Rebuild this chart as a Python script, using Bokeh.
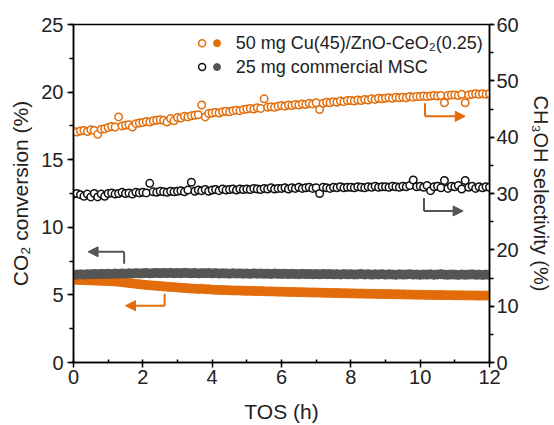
import numpy as np
from bokeh.plotting import figure
from bokeh.models import (Range1d, LinearAxis, SingleIntervalTicker, Label, Arrow, NormalHead)
from bokeh.embed import file_html
from bokeh.resources import INLINE

# ---------------- data ----------------
tos_h = np.round(np.arange(0, 121) * 0.1, 1)

# CH3OH selectivity (%), 50 mg Cu(45)/ZnO-CeO2(0.25)  (right axis, open orange)
sel_cu = [41.0, 40.9, 41.1, 41.2, 41.0, 41.3, 41.2, 40.5, 41.4, 41.5,
          41.7, 41.9, 41.8, 43.6, 42.0, 42.1, 42.2, 41.8, 42.4, 42.5,
          42.6, 42.8, 42.7, 42.9, 43.0, 43.1, 43.0, 42.7, 43.3, 42.9,
          43.5, 43.4, 43.7, 43.6, 43.8, 43.9, 44.0, 45.7, 43.6, 44.2,
          44.3, 44.4, 44.3, 44.5, 44.6, 44.5, 44.7, 44.8, 44.7, 44.9,
          45.0, 45.1, 45.0, 45.2, 45.1, 46.8, 45.3, 45.4, 45.3, 45.5,
          45.6, 45.5, 45.7, 45.6, 45.8, 45.7, 45.9, 45.8, 46.0, 45.9,
          46.1, 44.9, 46.0, 46.2, 46.1, 46.3, 46.2, 46.4, 46.3, 46.5,
          46.5, 46.4, 46.6, 46.5, 46.7, 46.6, 46.8, 46.7, 46.9, 46.8,
          46.9, 47.0, 46.9, 47.1, 47.0, 47.1, 47.0, 47.2, 47.1, 47.2,
          47.2, 47.3, 47.2, 47.3, 47.4, 47.3, 47.4, 46.1, 47.4, 47.5,
          47.5, 47.4, 47.6, 46.1, 47.5, 47.6, 47.7, 47.6, 47.7, 47.6,
          47.7]

# CH3OH selectivity (%), 25 mg commercial MSC (right axis, open black)
sel_msc = [29.9, 30.0, 29.8, 29.5, 29.9, 29.4, 30.0, 29.4, 29.9, 29.5,
           30.0, 30.1, 29.9, 30.0, 30.2, 30.0, 30.1, 29.9, 30.2, 30.1,
           30.2, 30.1, 31.8, 30.3, 30.2, 30.4, 30.3, 30.2, 30.4, 30.3,
           30.4, 30.5, 30.3, 30.6, 32.0, 30.4, 30.6, 30.5, 30.7, 30.4,
           30.6, 30.7, 30.5, 30.8, 30.6, 30.7, 30.8, 30.6, 30.8, 30.7,
           30.8, 30.7, 30.9, 30.8, 30.7, 30.9, 30.8, 31.0, 30.8, 30.9,
           30.9, 31.0, 30.8, 31.0, 30.9, 31.1, 30.9, 31.0, 31.1, 30.9,
           31.0, 30.0, 31.1, 31.0, 30.9, 31.1, 31.0, 31.2, 31.0, 31.1,
           31.1, 31.0, 31.2, 31.1, 31.0, 31.2, 31.1, 31.3, 31.1, 31.2,
           31.2, 31.1, 31.3, 31.2, 31.1, 31.3, 31.2, 31.4, 32.4, 31.2,
           31.3, 31.1, 31.4, 30.5, 31.2, 31.3, 31.0, 32.3, 30.9, 31.3,
           31.2, 31.4, 30.8, 32.3, 31.1, 31.3, 30.9, 31.2, 31.0, 31.2,
           31.1]

# CO2 conversion (%), Cu(45)/ZnO-CeO2(0.25) (left axis, filled orange)
conv_cu = [6.12, 6.11, 6.10, 6.09, 6.08, 6.07, 6.06, 6.05, 6.04, 6.03,
           6.02, 6.01, 5.99, 5.97, 5.94, 5.91, 5.88, 5.85, 5.82, 5.79,
           5.76, 5.73, 5.71, 5.69, 5.67, 5.65, 5.63, 5.61, 5.59, 5.57,
           5.55, 5.53, 5.51, 5.49, 5.47, 5.46, 5.44, 5.46, 5.42, 5.41,
           5.39, 5.38, 5.37, 5.36, 5.35, 5.34, 5.33, 5.33, 5.32, 5.31,
           5.30, 5.30, 5.29, 5.28, 5.28, 5.27, 5.26, 5.26, 5.25, 5.24,
           5.24, 5.23, 5.22, 5.22, 5.21, 5.20, 5.20, 5.19, 5.18, 5.18,
           5.17, 5.17, 5.16, 5.15, 5.15, 5.14, 5.14, 5.13, 5.12, 5.12,
           5.11, 5.11, 5.10, 5.10, 5.09, 5.09, 5.08, 5.08, 5.07, 5.07,
           5.06, 5.06, 5.05, 5.05, 5.04, 5.04, 5.03, 5.03, 5.02, 5.02,
           5.01, 5.01, 5.00, 5.00, 4.99, 4.99, 4.99, 4.98, 4.98, 4.98,
           4.97, 4.97, 4.97, 4.96, 4.96, 4.96, 4.95, 4.95, 4.95, 4.95,
           4.94]

# CO2 conversion (%), commercial MSC (left axis, filled grey)
conv_msc = [6.48, 6.50, 6.52, 6.50, 6.53, 6.52, 6.55, 6.53, 6.56, 6.54,
            6.57, 6.55, 6.58, 6.56, 6.59, 6.57, 6.60, 6.58, 6.61, 6.59,
            6.60, 6.62, 6.59, 6.61, 6.63, 6.60, 6.62, 6.61, 6.63, 6.60,
            6.62, 6.60, 6.63, 6.61, 6.60, 6.62, 6.59, 6.61, 6.60, 6.62,
            6.59, 6.61, 6.58, 6.60, 6.59, 6.57, 6.60, 6.58, 6.59, 6.57,
            6.58, 6.56, 6.59, 6.57, 6.58, 6.56, 6.57, 6.55, 6.58, 6.56,
            6.55, 6.57, 6.54, 6.56, 6.55, 6.53, 6.56, 6.54, 6.55, 6.53,
            6.54, 6.52, 6.55, 6.53, 6.54, 6.52, 6.53, 6.51, 6.54, 6.52,
            6.53, 6.51, 6.52, 6.54, 6.51, 6.53, 6.50, 6.52, 6.51, 6.53,
            6.50, 6.52, 6.51, 6.49, 6.52, 6.50, 6.51, 6.53, 6.50, 6.51,
            6.49, 6.51, 6.50, 6.52, 6.49, 6.51, 6.53, 6.50, 6.49, 6.51,
            6.50, 6.48, 6.51, 6.49, 6.50, 6.52, 6.49, 6.50, 6.48, 6.50,
            6.49]

series_names = ["50 mg Cu(45)/ZnO-CeO\u2082(0.25)", "25 mg commercial MSC"]
x_title = "TOS (h)"
left_title = "CO\u2082 conversion (%)"
right_title = "CH\u2083OH selectivity (%)"

ORANGE = "#E36C0A"
GREY = "#555555"
BLACK = "#111111"
TXT = "#222222"
FONT = "Liberation Sans"

# ---------------- figure ----------------
p = figure(width=554, height=425, output_backend="svg", toolbar_location=None,
           x_range=Range1d(0, 12), y_range=Range1d(0, 25),
           min_border_left=73, min_border_right=61, min_border_top=24, min_border_bottom=62)
p.extra_y_ranges = {"right": Range1d(0, 60)}
p.xgrid.visible = False
p.ygrid.visible = False
p.outline_line_color = "black"
p.outline_line_width = 1.5
p.background_fill_color = "white"
p.border_fill_color = "white"

def style_axis(ax, label, label_size="21px"):
    ax.axis_label = label
    ax.axis_label_text_font = FONT
    ax.axis_label_text_font_style = "normal"
    ax.axis_label_text_font_size = label_size
    ax.axis_label_text_color = TXT
    ax.major_label_text_font = FONT
    ax.major_label_text_font_size = "20px"
    ax.major_label_text_color = TXT
    ax.axis_line_color = "black"
    ax.axis_line_width = 1.5
    ax.major_tick_line_color = "black"
    ax.minor_tick_line_color = "black"
    ax.major_tick_line_width = 1.5
    ax.minor_tick_line_width = 1.5

xa = p.xaxis[0]
xa.ticker = SingleIntervalTicker(interval=2, num_minor_ticks=2)
style_axis(xa, x_title)
xa.major_tick_out = 5
xa.major_tick_in = 0
xa.minor_tick_out = 0
xa.minor_tick_in = 3
xa.major_label_standoff = 2
xa.axis_label_standoff = 13

ya = p.yaxis[0]
ya.ticker = SingleIntervalTicker(interval=5, num_minor_ticks=2)
style_axis(ya, left_title)
ya.major_tick_out = 6
ya.major_tick_in = 0
ya.minor_tick_out = 4
ya.minor_tick_in = 0
ya.major_label_standoff = 4
ya.axis_label_standoff = 6

yr = LinearAxis(y_range_name="right",
                ticker=SingleIntervalTicker(interval=10, num_minor_ticks=2))
style_axis(yr, right_title, "20px")
yr.major_tick_out = 5
yr.major_tick_in = 0
yr.minor_tick_out = 4
yr.minor_tick_in = 0
yr.major_label_standoff = 2
yr.axis_label_standoff = 8
p.add_layout(yr, "right")

# ---------------- data glyphs ----------------
p.scatter(tos_h, conv_cu, size=9, marker="circle", fill_color=ORANGE, line_color=ORANGE)
p.scatter(tos_h, conv_msc, size=9, marker="circle", fill_color=GREY, line_color=GREY)
p.scatter(tos_h, sel_msc, y_range_name="right", size=7.5, marker="circle",
          fill_color="white", line_color=BLACK, line_width=1.5)
p.scatter(tos_h, sel_cu, y_range_name="right", size=7.5, marker="circle",
          fill_color="white", line_color=ORANGE, line_width=1.5)

# ---------------- arrows ----------------
def elbow(xv, y0, y1, x_tip, color, rng="default"):
    p.segment(x0=[xv], y0=[y0], x1=[xv], y1=[y1], line_color=color, line_width=2,
              y_range_name=rng)
    p.add_layout(Arrow(x_start=xv, y_start=y1, x_end=x_tip, y_end=y1,
                       line_color=color, line_width=2, y_range_name=rng,
                       end=NormalHead(size=10, fill_color=color, line_color=color)))

elbow(1.46, 7.3, 8.19, 0.42, GREY)
elbow(2.63, 5.09, 4.2, 1.50, ORANGE)
elbow(10.14, 46.0, 43.7, 11.30, ORANGE, "right")
elbow(10.11, 29.2, 26.9, 11.24, GREY, "right")

# ---------------- legend ----------------
leg_y = [23.62, 21.85]
p.scatter([3.71, 3.71], leg_y, size=7, marker="circle", fill_color="white",
          line_color=[ORANGE, BLACK], line_width=1.5)
p.scatter([4.14, 4.14], leg_y, size=7, marker="circle",
          fill_color=[ORANGE, GREY], line_color=[ORANGE, GREY])
for name, yy in zip(series_names, leg_y):
    p.add_layout(Label(x=4.68, y=yy, text=name, text_baseline="middle",
                       text_font=FONT, text_font_size="18px", text_color=TXT))

open("out.html", "w").write(file_html(p, INLINE))
